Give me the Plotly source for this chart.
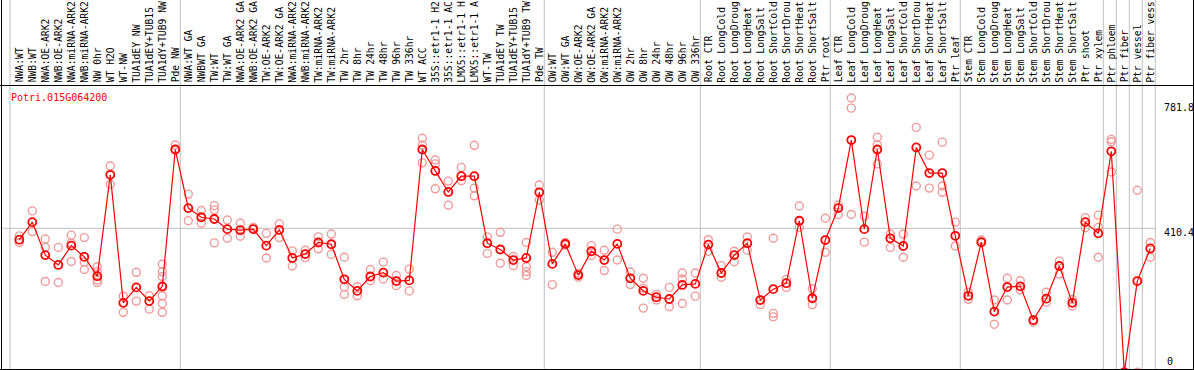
import plotly.graph_objects as go

gene = "Potri.015G064200"

# category labels, as visible in the chart header
group_nw = ["NWA:WT", "NWB:WT", "NWA:OE-ARK2", "NWB:OE-ARK2", "NWA:miRNA-ARK2",
            "NWB:miRNA-ARK2", "NW 0hr", "WT H2O", "WT-NW", "TUA1dEY NW",
            "TUA1dEY+TUB15", "TUA1dY+TUB9 NW", "Pde NW"]
group_tw = ["NWA:WT GA", "NWBWT GA", "TW:WT", "TW:WT GA", "NWA:OE-ARK2 GA",
            "NWB:OE-ARK2 GA", "TW:OE-ARK2", "TW:OE-ARK2 GA", "NWA:miRNA-ARK2",
            "NWB:miRNA-ARK2", "TW:miRNA-ARK2", "TW:miRNA-ARK2", "TW 2hr",
            "TW 8hr", "TW 24hr", "TW 48hr", "TW 96hr", "TW 336hr", "WT ACC",
            "35S::etr1-1 H2", "35S::etr1-1 AC", "LMX5::etr1-1 H",
            "LMX5::etr1-1 A", "WT-TW", "TUA1dEY TW", "TUA1dEY+TUB15",
            "TUA1dY+TUB9 TW", "Pde TW"]
group_ow = ["OW:WT", "OW:WT GA", "OW:OE-ARK2", "OW:OE-ARK2 GA", "OW:miRNA-ARK2",
            "OW:miRNA-ARK2", "OW 2hr", "OW 8hr", "OW 24hr", "OW 48hr",
            "OW 96hr", "OW 336hr"]
group_root = ["Root CTR", "Root LongCold", "Root LongDroug", "Root LongHeat",
              "Root LongSalt", "Root ShortCold", "Root ShortDrou",
              "Root ShortHeat", "Root ShortSalt", "Ptr root"]
group_leaf = ["Leaf CTR", "Leaf LongCold", "Leaf LongDroug", "Leaf LongHeat",
              "Leaf LongSalt", "Leaf ShortCold", "Leaf ShortDrou",
              "Leaf ShortHeat", "Leaf ShortSalt", "Ptr leaf"]
group_stem = ["Stem CTR", "Stem LongCold", "Stem LongDroug", "Stem LongHeat",
              "Stem LongSalt", "Stem ShortCold", "Stem ShortDrou",
              "Stem ShortHeat", "Stem ShortSalt", "Ptr shoot", "Ptr xylem"]
group_phloem = ["Ptr phloem"]
group_fiber = ["Ptr fiber"]
group_vessel = ["Ptr vessel"]
group_fv = ["Ptr fiber vess"]

groups = [group_nw, group_tw, group_ow, group_root, group_leaf, group_stem,
          group_phloem, group_fiber, group_vessel, group_fv]

means = [
    378, 428, 334, 306, 361, 329, 274, 563, 198, 242, 203, 245, 635,
    468, 442, 437, 408, 405, 408, 361, 406, 326, 337, 370, 365, 265, 232, 273,
    284, 260, 262, 635, 574, 514, 559, 559, 368, 350, 320, 326, 513,
    309, 366, 277, 345, 320, 366, 268, 232, 214, 209, 249, 252,
    364, 283, 334, 368, 206, 237, 254, 432, 211, 377,
    468, 662, 408, 635, 382, 360, 641, 568, 568, 389,
    218, 371, 173, 243, 245, 149, 210, 303, 198, 428, 396,
    630, 0, 260, 353,
]

replicates = [
    [389, 370], [460, 401], [380, 356, 259], [356, 256], [391, 368, 316],
    [384, 314, 293], [301, 287, 263, 256], [588, 536], [217, 171], [285, 203],
    [218, 180], [308, 287, 273, 242, 218, 196, 171], [648, 635],
    [508, 432], [461, 425], [475, 463, 369], [434, 382], [425, 388], [413, 408],
    [396, 326], [423, 384], [346, 303], [348, 327], [386, 352], [394, 336],
    [328, 243, 222], [244, 218], [293, 261], [314, 266], [276, 247], [294, 232],
    [667, 648, 597], [605, 594, 523], [545, 476], [584, 546], [647, 525, 503],
    [386, 339], [399, 311], [330, 304], [370, 301, 287, 276], [534, 491],
    [342, 250], [370, 362], [282, 271], [361, 333], [348, 290], [408, 320],
    [286, 250], [268, 240, 183], [222, 206], [242, 187], [283, 266, 196],
    [283, 217],
    [378, 345], [304, 271], [345, 315], [386, 348], [193, 206], [382, 168, 158],
    [265, 242], [474, 413], [238, 193], [439, 342],
    [477, 450], [781.8, 753, 450], [445, 371], [670, 648, 594], [394, 356],
    [394, 328], [698, 531], [619, 525], [656, 531, 513], [428, 360],
    [228, 208], [377, 369], [206, 137], [268, 206], [261, 235], [143, 149],
    [228, 200], [317, 280], [208, 189], [441, 412], [448, 413, 328],
    [664, 657, 571], [0, 0], [519, 0], [370, 328],
]

axis_labels = ["781.8", "410.4", "0"]
axis_values = [781.8, 410.4, 0]

categories = [c for g in groups for c in g]
n = len(categories)
xs = list(range(n))

W, H = 1194, 370
X0, DX = 19.3, 13.0          # pixel position of first category, spacing
Z0, S = 372.3, 0.35083       # pixel of value 0, pixels per unit

def px_to_x(p):
    return (p - X0) / DX

def py_to_paper(p):
    return 1 - p / H

x_range = [px_to_x(0), px_to_x(W)]
y_range = [(Z0 - H) / S, Z0 / S]

mono = "DejaVu Sans Mono"
grid = "#c0c0c0"
rep_color = "#f29a9a"
red = "#ff0000"

fig = go.Figure()

# replicates
rx, ry = [], []
for i, reps in enumerate(replicates):
    for v in reps:
        rx.append(i)
        ry.append(v)
fig.add_trace(go.Scatter(
    x=rx, y=ry, mode="markers",
    marker=dict(symbol="circle-open", size=8, color=rep_color,
                line=dict(width=1.4, color=rep_color)),
    hoverinfo="skip", showlegend=False))

# means
fig.add_trace(go.Scatter(
    x=xs, y=means, mode="lines+markers",
    line=dict(color=red, width=1.2),
    marker=dict(symbol="circle-open", size=8, color=red,
                line=dict(width=1.8, color=red)),
    showlegend=False))

shapes = []
# vertical group separators
bounds = [px_to_x(10)]
acc = 0
for g in groups:
    acc += len(g)
    bounds.append(acc - 1 + 0.385)
for b in bounds:
    shapes.append(dict(type="line", xref="x", yref="paper", x0=b, x1=b,
                       y0=0, y1=1, line=dict(color=grid, width=1), layer="below"))
# horizontal grid at middle value
shapes.append(dict(type="line", xref="paper", yref="y",
                   x0=1.5 / W, x1=bounds[-1] * DX / W + X0 / W,
                   y0=axis_values[1], y1=axis_values[1],
                   line=dict(color=grid, width=1), layer="below"))
# frame lines
blk = dict(color="black", width=1)
shapes.append(dict(type="line", xref="paper", yref="paper", x0=0, x1=1,
                   y0=py_to_paper(85.5), y1=py_to_paper(85.5), line=blk))
shapes.append(dict(type="line", xref="paper", yref="paper", x0=0, x1=1,
                   y0=py_to_paper(369.5), y1=py_to_paper(369.5), line=blk))
shapes.append(dict(type="line", xref="paper", yref="paper", x0=1.5 / W, x1=1.5 / W,
                   y0=0, y1=1, line=blk))
shapes.append(dict(type="line", xref="paper", yref="paper", x0=1193.5 / W, x1=1193.5 / W,
                   y0=0, y1=1, line=blk))

annotations = []
for i, c in enumerate(categories):
    annotations.append(dict(x=i, y=py_to_paper(83.5), xref="x", yref="paper",
                            text=c, textangle=-90, showarrow=False,
                            xanchor="center", yanchor="bottom",
                            font=dict(family=mono, size=9.7, color="black"),
                            borderpad=0))
annotations.append(dict(x=10 / W, y=py_to_paper(97), xref="paper", yref="paper",
                        text=gene, showarrow=False, xanchor="left", yanchor="middle",
                        font=dict(family=mono, size=10, color=red), borderpad=0))
label_pix = [(1163, 107.7), (1163, 232.7), (1166, 361.7)]
for t, (lx, ly) in zip(axis_labels, label_pix):
    annotations.append(dict(x=lx / W, y=py_to_paper(ly), xref="paper", yref="paper",
                            text=t, showarrow=False, xanchor="left", yanchor="middle",
                            font=dict(family=mono, size=10, color="black"), borderpad=0))

fig.update_layout(
    width=W, height=H,
    margin=dict(l=0, r=0, t=0, b=0, pad=0),
    paper_bgcolor="white", plot_bgcolor="white",
    xaxis=dict(range=x_range, visible=False, fixedrange=True),
    yaxis=dict(range=y_range, visible=False, fixedrange=True),
    shapes=shapes, annotations=annotations,
    showlegend=False,
)

fig.write_html("out.html", config={"displayModeBar": False},
               post_script="document.body.style.margin='0';")
